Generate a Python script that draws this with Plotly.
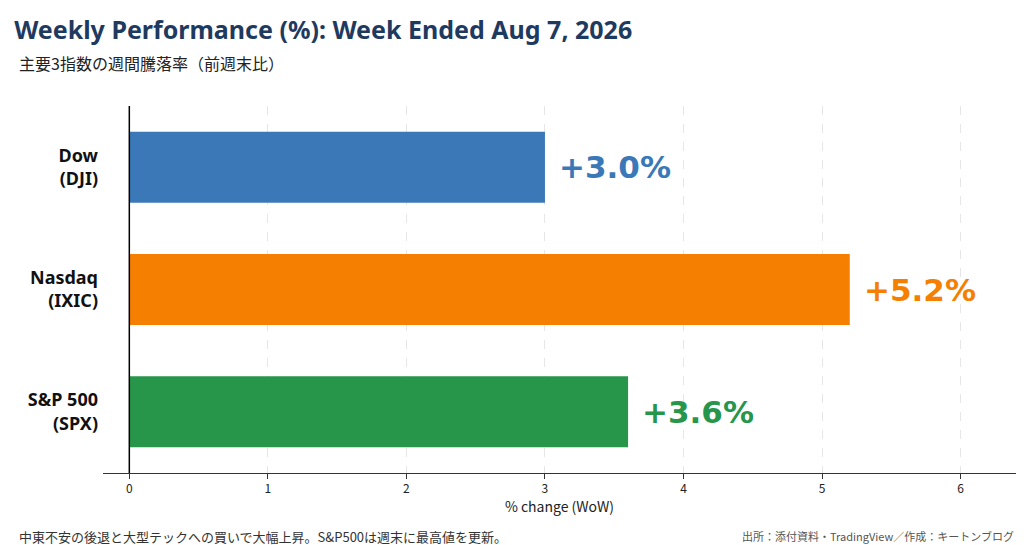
import plotly.graph_objects as go

categories = ["Dow<br>(DJI)", "Nasdaq<br>(IXIC)", "S&P 500<br>(SPX)"]
values = [3.0, 5.2, 3.6]
labels = ["+3.0%", "+5.2%", "+3.6%"]
colors = ["#3a78b8", "#f57f00", "#27964a"]

fig = go.Figure(go.Bar(
    y=categories, x=values, orientation="h",
    marker=dict(color=colors, line=dict(width=0)),
    width=0.58,
))

for c, v, t, col in zip(categories, values, labels, colors):
    fig.add_annotation(x=v, y=c, text="<b>" + t + "</b>", showarrow=False,
                       xanchor="left", xshift=12,
                       font=dict(size=31, color=col, family="DejaVu Sans"))

fig.add_shape(type="line", x0=0, x1=0, y0=0, y1=1, xref="x", yref="paper",
              line=dict(color="black", width=1.5))

fig.update_layout(
    width=1024, height=545,
    margin=dict(l=95, r=16, t=98, b=80, autoexpand=False),
    plot_bgcolor="white", paper_bgcolor="white",
    font=dict(family="Noto Sans CJK JP, Noto Sans", color="#222"),
    showlegend=False,
    title=dict(text="<b>Weekly Performance (%): Week Ended Aug 7, 2026</b>",
               x=0.006, xanchor="left", xref="container",
               y=0.975, yanchor="top", yref="container", automargin=False,
               font=dict(size=25, color="#1f3a5f", family="Noto Sans")),
    xaxis=dict(range=[-0.19, 6.4], tickvals=[0, 1, 2, 3, 4, 5, 6],
               showgrid=True, gridcolor="#e6e6e6", griddash="dash",
               zeroline=False, showline=True, linecolor="#333", linewidth=1,
               ticks="outside", ticklen=5, tickcolor="#333",
               tickfont=dict(size=12), automargin=False,
               title=dict(text="% change (WoW)", font=dict(size=14), standoff=6)),
    yaxis=dict(autorange="reversed", showgrid=False, zeroline=False,
               tickfont=dict(size=18, color="#111", family="Noto Sans"),
               ticklabelstandoff=4, automargin=False),
)
fig.update_yaxes(ticktext=["<b>" + c + "</b>" for c in categories], tickvals=categories)

fig.add_annotation(text="主要3指数の週間騰落率（前週末比）", xref="paper", yref="paper",
                   x=-0.094, y=1.117, xanchor="left", yanchor="middle", showarrow=False,
                   font=dict(size=16, color="#222"))
fig.add_annotation(text="中東不安の後退と大型テックへの買いで大幅上昇。S&P500は週末に最高値を更新。",
                   xref="paper", yref="paper", x=-0.094, y=-0.172, xanchor="left",
                   yanchor="middle", showarrow=False, font=dict(size=13, color="#333"))
fig.add_annotation(text="出所：添付資料・TradingView／作成：キートンブログ",
                   xref="paper", yref="paper", x=1.0, y=-0.172, xanchor="right",
                   yanchor="middle", showarrow=False, font=dict(size=11, color="#555"))

fig.write_html("out.html")
